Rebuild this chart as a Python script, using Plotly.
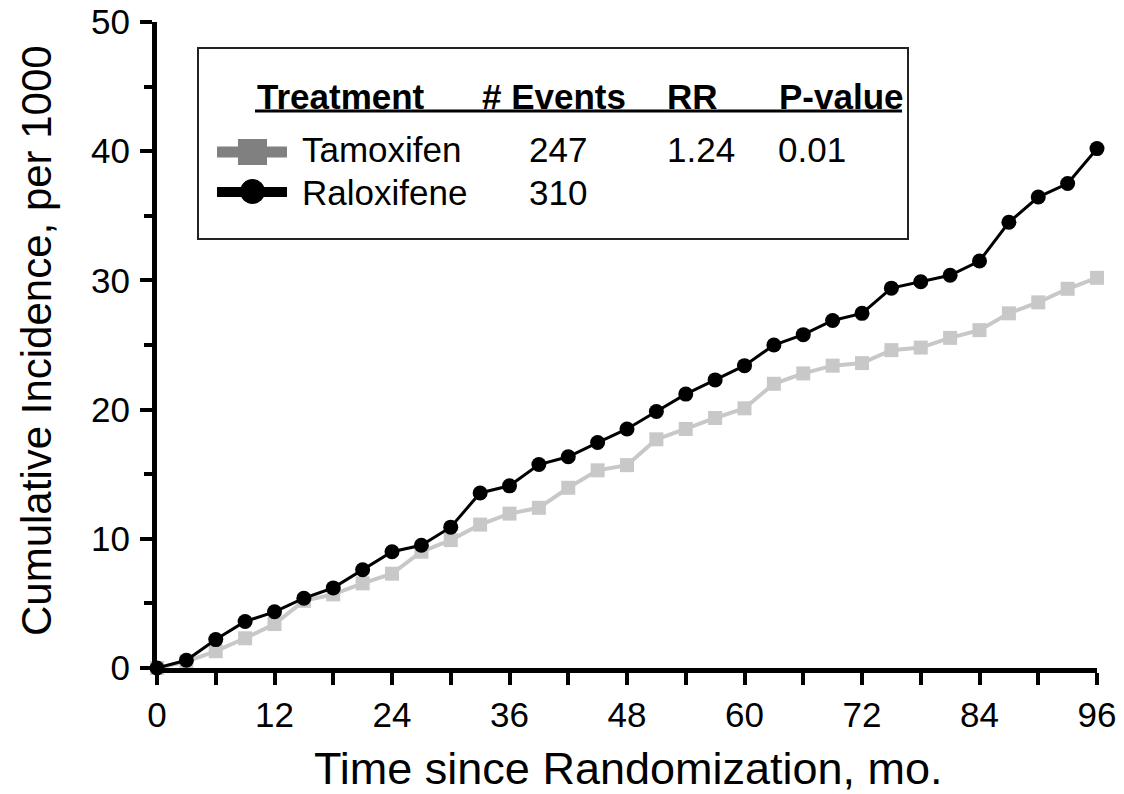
import plotly.graph_objects as go

months = [0, 3, 6, 9, 12, 15, 18, 21, 24, 27, 30, 33, 36, 39, 42, 45, 48,
          51, 54, 57, 60, 63, 66, 69, 72, 75, 78, 81, 84, 87, 90, 93, 96]
tamoxifen = [0, 0.5, 1.3, 2.3, 3.4, 5.2, 5.7, 6.55, 7.3, 9.0, 9.9, 11.1, 11.95,
             12.4, 13.95, 15.3, 15.7, 17.7, 18.5, 19.35, 20.1, 22.0, 22.8, 23.4,
             23.6, 24.6, 24.8, 25.55, 26.15, 27.45, 28.3, 29.35, 30.2]
raloxifene = [0, 0.6, 2.2, 3.6, 4.35, 5.4, 6.2, 7.6, 9.0, 9.5, 10.9, 13.55, 14.1,
              15.75, 16.35, 17.45, 18.5, 19.85, 21.2, 22.3, 23.4, 25.0, 25.8, 26.9,
              27.45, 29.4, 29.9, 30.4, 31.5, 34.5, 36.45, 37.5, 40.2]

x_tickvals = [0, 12, 24, 36, 48, 60, 72, 84, 96]
y_tickvals = [0, 10, 20, 30, 40, 50]
x_title = "Time since Randomization, mo."
y_title = "Cumulative Incidence, per 1000"

table_header = ["Treatment", "# Events", "RR", "P-value"]
treatments = ["Tamoxifen", "Raloxifene"]
events = ["247", "310"]
rr_values = ["1.24", ""]
p_values = ["0.01", ""]

FONT = "Liberation Sans, Arial, Helvetica, sans-serif"
LIGHT = "#c8c8c8"
MID = "#808080"

fig = go.Figure()
fig.add_trace(go.Scatter(
    x=months, y=tamoxifen, mode="lines+markers", name="Tamoxifen",
    line=dict(color=LIGHT, width=4),
    marker=dict(symbol="square", size=14, color=LIGHT),
    cliponaxis=False, showlegend=False))
fig.add_trace(go.Scatter(
    x=months, y=raloxifene, mode="lines+markers", name="Raloxifene",
    line=dict(color="black", width=3),
    marker=dict(symbol="circle", size=15, color="black"),
    cliponaxis=False, showlegend=False))

L, R, T, B = 157, 27, 22, 126
W, H = 1124, 794
PW, PH = W - L - R, H - T - B


def px(xp):
    return (xp - L) / PW


def py(yp):
    return (H - B - yp) / PH


shapes = [
    dict(type="rect", xref="paper", yref="paper", x0=px(198), x1=px(908),
         y0=py(239), y1=py(48), line=dict(color="#222", width=2)),
    dict(type="line", xref="paper", yref="paper", x0=px(255), x1=px(902),
         y0=py(111), y1=py(111), line=dict(color="black", width=3)),
    # legend samples
    dict(type="line", xref="paper", yref="paper", x0=px(217), x1=px(287),
         y0=py(152), y1=py(152), line=dict(color=MID, width=11)),
    dict(type="rect", xref="paper", yref="paper", x0=px(238), x1=px(267),
         y0=py(165), y1=py(139), fillcolor=MID, line=dict(width=0)),
    dict(type="line", xref="paper", yref="paper", x0=px(217), x1=px(287),
         y0=py(192), y1=py(192), line=dict(color="black", width=10)),
    dict(type="circle", xref="paper", yref="paper", x0=px(240), x1=px(265),
         y0=py(204), y1=py(179), fillcolor="black", line=dict(width=0)),
]

annotations = []
hdr_x = [255, 480, 665, 777]
for txt, xp in zip(table_header, hdr_x):
    annotations.append(dict(text="<b>" + txt + "</b>", x=px(xp), y=py(96),
                            xref="paper", yref="paper", xanchor="left",
                            yanchor="middle", showarrow=False,
                            font=dict(family=FONT, size=35, color="black")))
row_y = [149, 192]
for i in range(2):
    for txt, xp in zip([treatments[i], events[i], rr_values[i], p_values[i]],
                       [300, 527, 665, 776]):
        if txt:
            annotations.append(dict(text=txt, x=px(xp), y=py(row_y[i]),
                                    xref="paper", yref="paper", xanchor="left",
                                    yanchor="middle", showarrow=False,
                                    font=dict(family=FONT, size=35, color="black")))

# axis titles
annotations.append(dict(text=x_title, x=px(628), y=py(768), xref="paper",
                        yref="paper", xanchor="center", yanchor="middle",
                        showarrow=False, font=dict(family=FONT, size=45, color="black")))
annotations.append(dict(text=y_title, x=px(36), y=py(341), xref="paper",
                        yref="paper", xanchor="center", yanchor="middle",
                        textangle=-90, showarrow=False,
                        font=dict(family=FONT, size=42, color="black")))

fig.update_layout(
    width=W, height=H,
    margin=dict(l=L, r=R, t=T, b=B, autoexpand=False),
    paper_bgcolor="white", plot_bgcolor="white",
    font=dict(family=FONT, color="black"),
    shapes=shapes, annotations=annotations,
    xaxis=dict(range=[0, 96], tickvals=x_tickvals, showgrid=False, zeroline=False,
               automargin=False,
               showline=True, linecolor="black", linewidth=5,
               ticks="outside", ticklen=12, tickwidth=4, tickcolor="black",
               minor=dict(dtick=6, ticks="outside", ticklen=12, tickwidth=4,
                          tickcolor="black", showgrid=False),
               tickfont=dict(size=35), ticklabelstandoff=0),
    yaxis=dict(range=[0, 50], tickvals=y_tickvals, showgrid=False, zeroline=False,
               automargin=False,
               showline=True, linecolor="black", linewidth=5,
               ticks="outside", ticklen=12, tickwidth=4, tickcolor="black",
               minor=dict(dtick=5, ticks="outside", ticklen=8, tickwidth=4,
                          tickcolor="black", showgrid=False),
               tickfont=dict(size=35), ticklabelstandoff=3),
)

fig.write_html("out.html", post_script="document.body.style.margin='0';",
               config={"displayModeBar": False})
